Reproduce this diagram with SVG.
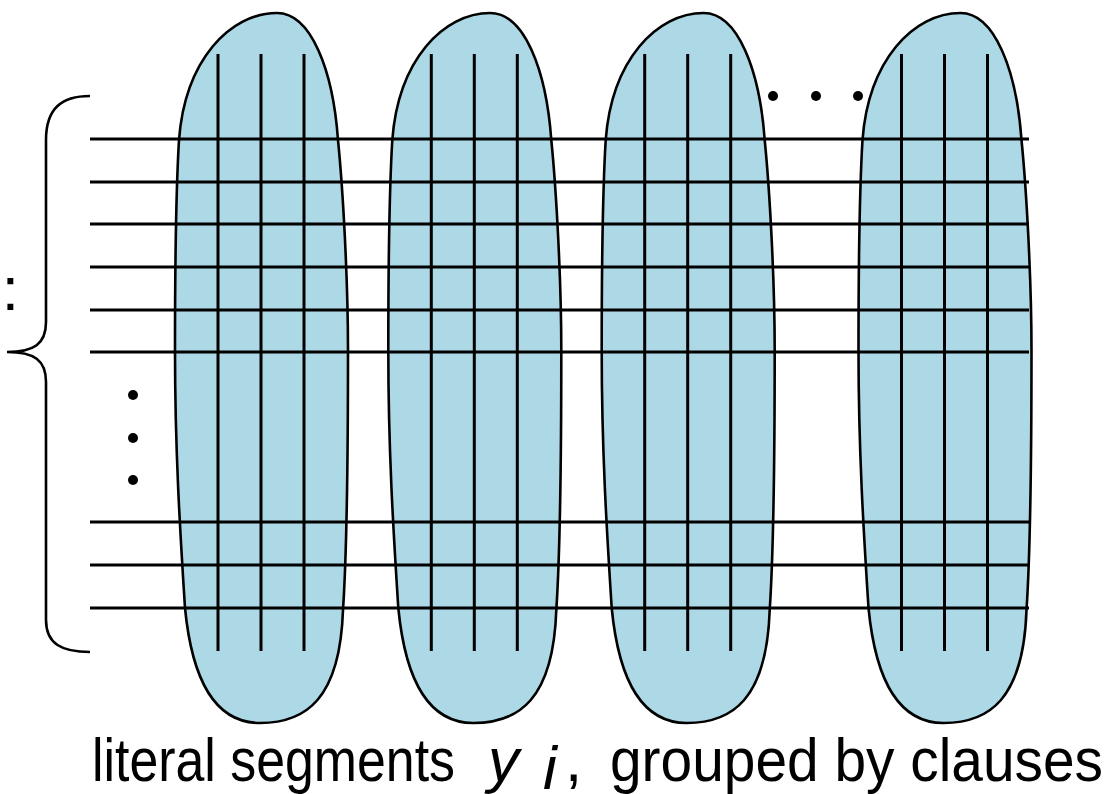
<svg xmlns="http://www.w3.org/2000/svg" xmlns:xlink="http://www.w3.org/1999/xlink" width="1119" height="794" viewBox="0 0 1119 794">
<style>
.blob{fill:#ADD8E6;stroke:#000;stroke-width:2.6}
.ln{stroke:#000;stroke-width:3;fill:none}
.br{stroke:#000;stroke-width:2.6;fill:none}
.dot{fill:#000}
.t{font-family:"Liberation Sans",Arial,sans-serif;font-size:62px;fill:#000}
</style>
<defs>
<path id="blobShape" class="blob" d="M277,13 C311,13 333,70 338,140 C343,190 348,280 348,350 C348,450 347,550 343,610 C340,700 305,723 260,723 C215,723 192,680 185,608 C180,530 175,450 175,350 C175,250 176,190 179,140 C185,60 230,13 277,13 Z"/>
<g id="vlines">
<line class="ln" x1="218" y1="54" x2="218" y2="651"/>
<line class="ln" x1="261" y1="54" x2="261" y2="651"/>
<line class="ln" x1="304" y1="54" x2="304" y2="651"/>
</g>
</defs>
<rect width="1119" height="794" fill="#fff"/>
<g id="clause1"><use xlink:href="#blobShape"/><use xlink:href="#vlines"/></g>
<g id="clause2" transform="translate(213.3,0)"><use xlink:href="#blobShape"/><use xlink:href="#vlines"/></g>
<g id="clause3" transform="translate(426.7,0)"><use xlink:href="#blobShape"/><use xlink:href="#vlines"/></g>
<g id="clause4" transform="translate(683.5,0)"><use xlink:href="#blobShape"/><use xlink:href="#vlines"/></g>
<g id="connectors">
<line class="ln" x1="90" y1="139" x2="1029" y2="139"/>
<line class="ln" x1="90" y1="182" x2="1029" y2="182"/>
<line class="ln" x1="90" y1="224" x2="1029" y2="224"/>
<line class="ln" x1="90" y1="267" x2="1029" y2="267"/>
<line class="ln" x1="90" y1="310" x2="1029" y2="310"/>
<line class="ln" x1="90" y1="352" x2="1029" y2="352"/>
<line class="ln" x1="90" y1="522" x2="1029" y2="522"/>
<line class="ln" x1="90" y1="565" x2="1029" y2="565"/>
<line class="ln" x1="90" y1="608" x2="1029" y2="608"/>
</g>
<g id="brace">
<path class="br" d="M90,96 C62,96 46,108 46,140 L46,322 C46,344 34,352 7,352 C34,352 46,360 46,382 L46,620 C46,644 62,652 90,652"/>
</g>
<g id="dots">
<circle class="dot" cx="773" cy="96" r="5"/>
<circle class="dot" cx="816" cy="96" r="5"/>
<circle class="dot" cx="858" cy="96" r="5"/>
<circle class="dot" cx="133" cy="395" r="5"/>
<circle class="dot" cx="133" cy="438" r="5"/>
<circle class="dot" cx="133" cy="480" r="5"/>
</g>
<g id="labels">
<text class="t" x="19" y="310" text-anchor="end">variables:</text>
<text class="t" x="92" y="781" textLength="363" lengthAdjust="spacingAndGlyphs">literal segments</text>
<text class="t" x="488" y="781" font-style="italic">y</text>
<text class="t" x="543" y="789" font-style="italic" font-size="40">i</text>
<text class="t" x="565" y="781">,</text>
<text class="t" x="610" y="781" textLength="493" lengthAdjust="spacingAndGlyphs">grouped by clauses</text>
</g>
</svg>
